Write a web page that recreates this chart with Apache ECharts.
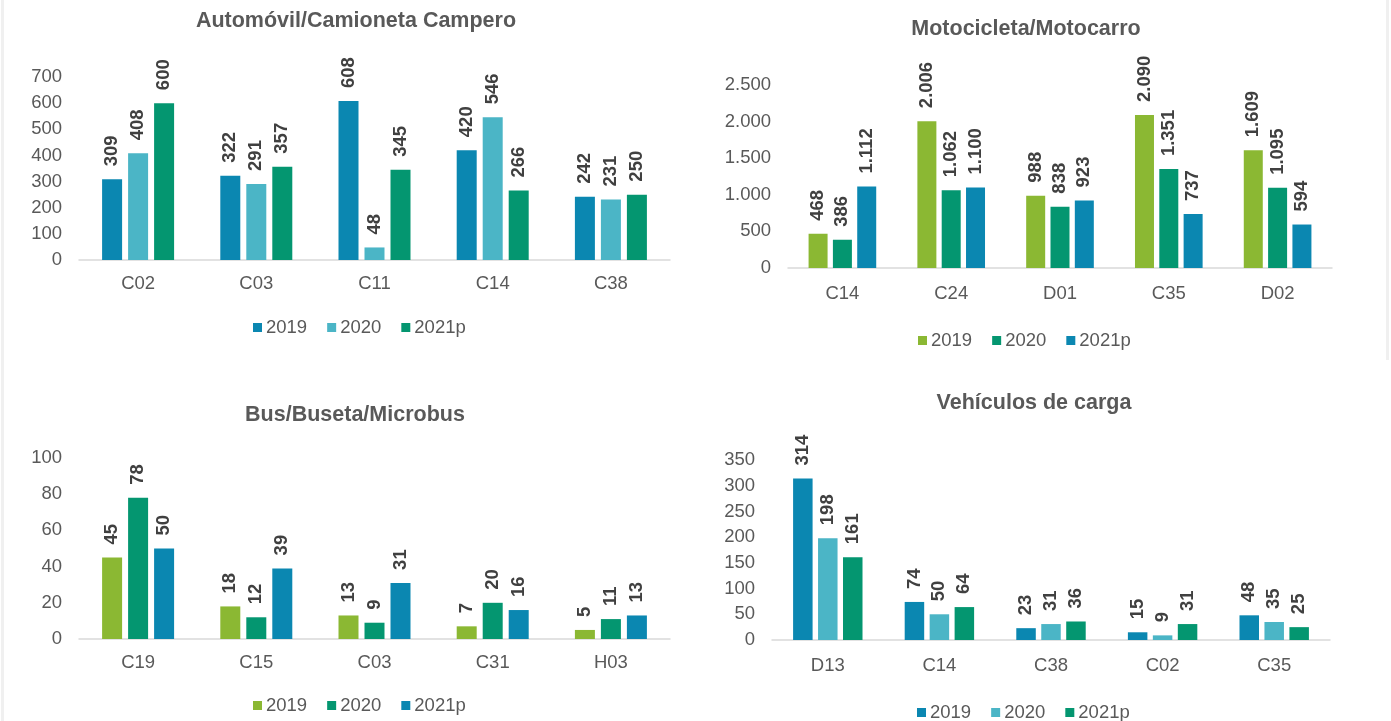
<!DOCTYPE html>
<html>
<head>
<meta charset="utf-8">
<script src="https://cdn.jsdelivr.net/npm/echarts@6/dist/echarts.min.js"></script>
<style>
html,body{margin:0;padding:0;background:#fff;width:1391px;height:721px;overflow:hidden;}
.c{position:absolute;}
.edge{position:absolute;background:#f0f0f0;}
</style>
</head>
<body>
<div class="edge" style="left:1px;top:0;width:3px;height:721px;"></div>
<div class="edge" style="left:1386px;top:0;width:3px;height:360px;"></div>
<div id="c1" class="c" style="left:0;top:0;width:695px;height:360px;"></div>
<div id="c2" class="c" style="left:695px;top:0;width:696px;height:360px;"></div>
<div id="c3" class="c" style="left:0;top:360px;width:695px;height:361px;"></div>
<div id="c4" class="c" style="left:695px;top:360px;width:696px;height:361px;"></div>
<script>
// ---- data ----
const seriesNames = ['2019', '2020', '2021p'];

const autoTitle = 'Automóvil/Camioneta Campero';
const autoCats = ['C02', 'C03', 'C11', 'C14', 'C38'];
const auto2019 = [309, 322, 608, 420, 242];
const auto2020 = [408, 291, 48, 546, 231];
const auto2021 = [600, 357, 345, 266, 250];

const motoTitle = 'Motocicleta/Motocarro';
const motoCats = ['C14', 'C24', 'D01', 'C35', 'D02'];
const moto2019 = [468, 2006, 988, 2090, 1609];
const moto2020 = [386, 1062, 838, 1351, 1095];
const moto2021 = [1112, 1100, 923, 737, 594];

const busTitle = 'Bus/Buseta/Microbus';
const busCats = ['C19', 'C15', 'C03', 'C31', 'H03'];
const bus2019 = [45, 18, 13, 7, 5];
const bus2020 = [78, 12, 9, 20, 11];
const bus2021 = [50, 39, 31, 16, 13];

const cargaTitle = 'Vehículos de carga';
const cargaCats = ['D13', 'C14', 'C38', 'C02', 'C35'];
const carga2019 = [314, 74, 23, 15, 48];
const carga2020 = [198, 50, 31, 9, 35];
const carga2021 = [161, 64, 36, 31, 25];

// ---- styling ----
const FONT = "'Liberation Sans', Arial, sans-serif";
const BLUE = '#0B87B1', LIGHT = '#4BB5C6', TEAL = '#049670', LIME = '#8BB833';
const GREY = '#595959';

function fmt(v) {
  return String(v).replace(/\B(?=(\d{3})+(?!\d))/g, '.');
}

function makeOption(cfg) {
  return {
    animation: false,
    textStyle: { fontFamily: FONT },
    title: {
      text: cfg.title, left: cfg.titleX, top: cfg.titleY, padding: 0,
      textAlign: 'center', textVerticalAlign: 'middle',
      textStyle: { fontFamily: FONT, fontSize: 21.5, fontWeight: 'bold', color: GREY }
    },
    legend: {
      data: seriesNames, left: cfg.legendX, top: cfg.legendY, padding: 0,
      itemWidth: 9, itemHeight: 9, itemGap: 20, icon: 'rect',
      textStyle: { fontFamily: FONT, fontSize: 18.5, color: GREY, padding: [0, 0, 0, -1] }
    },
    grid: { left: cfg.gridLeft, right: cfg.gridRight, top: cfg.gridTop, height: cfg.gridHeight, containLabel: false },
    xAxis: {
      type: 'category', data: cfg.cats,
      axisLine: { lineStyle: { color: '#D9D9D9', width: 1.5 } },
      axisTick: { show: false },
      axisLabel: { fontFamily: FONT, fontSize: 18.5, color: GREY, margin: cfg.xMargin }
    },
    yAxis: {
      type: 'value', min: 0, max: cfg.max, interval: cfg.interval,
      axisLine: { show: false }, axisTick: { show: false },
      splitLine: { show: false },
      axisLabel: { fontFamily: FONT, fontSize: 18.5, color: GREY, margin: 17, formatter: fmt }
    },
    series: cfg.data.map((d, i) => ({
      name: seriesNames[i], type: 'bar', data: d,
      barWidth: cfg.barWidth, barGap: cfg.barGap,
      itemStyle: { color: cfg.colors[i] },
      label: {
        show: true, position: 'top', rotate: 90, align: 'left', verticalAlign: 'middle',
        distance: 13, fontFamily: FONT, fontSize: 18.5, fontWeight: 'bold', color: '#404040',
        formatter: p => fmt(p.value)
      }
    }))
  };
}

const charts = [
  ['c1', {
    title: autoTitle, titleX: 356, titleY: 21, legendX: 253, legendY: 318,
    gridLeft: 79, gridRight: 25, gridTop: 77, gridHeight: 183, xMargin: 14,
    cats: autoCats, max: 700, interval: 100,
    data: [auto2019, auto2020, auto2021], colors: [BLUE, LIGHT, TEAL],
    barWidth: 20, barGap: '30%'
  }],
  ['c2', {
    title: motoTitle, titleX: 331, titleY: 29, legendX: 223, legendY: 331,
    gridLeft: 93, gridRight: 59, gridTop: 85, gridHeight: 183, xMargin: 16,
    cats: motoCats, max: 2500, interval: 500,
    data: [moto2019, moto2020, moto2021], colors: [LIME, TEAL, BLUE],
    barWidth: 19, barGap: '28%'
  }],
  ['c3', {
    title: busTitle, titleX: 355, titleY: 55, legendX: 253, legendY: 336,
    gridLeft: 79, gridRight: 25, gridTop: 98, gridHeight: 181, xMargin: 14,
    cats: busCats, max: 100, interval: 20,
    data: [bus2019, bus2020, bus2021], colors: [LIME, TEAL, BLUE],
    barWidth: 20, barGap: '30%'
  }],
  ['c4', {
    title: cargaTitle, titleX: 339, titleY: 43, legendX: 222, legendY: 343,
    gridLeft: 77, gridRight: 61, gridTop: 100, gridHeight: 180, xMargin: 16,
    cats: cargaCats, max: 350, interval: 50,
    data: [carga2019, carga2020, carga2021], colors: [BLUE, LIGHT, TEAL],
    barWidth: 19.5, barGap: '28%'
  }]
];

charts.forEach(([id, cfg]) => {
  const ch = echarts.init(document.getElementById(id), null, { renderer: 'canvas' });
  ch.setOption(makeOption(cfg));
});
</script>
</body>
</html>
